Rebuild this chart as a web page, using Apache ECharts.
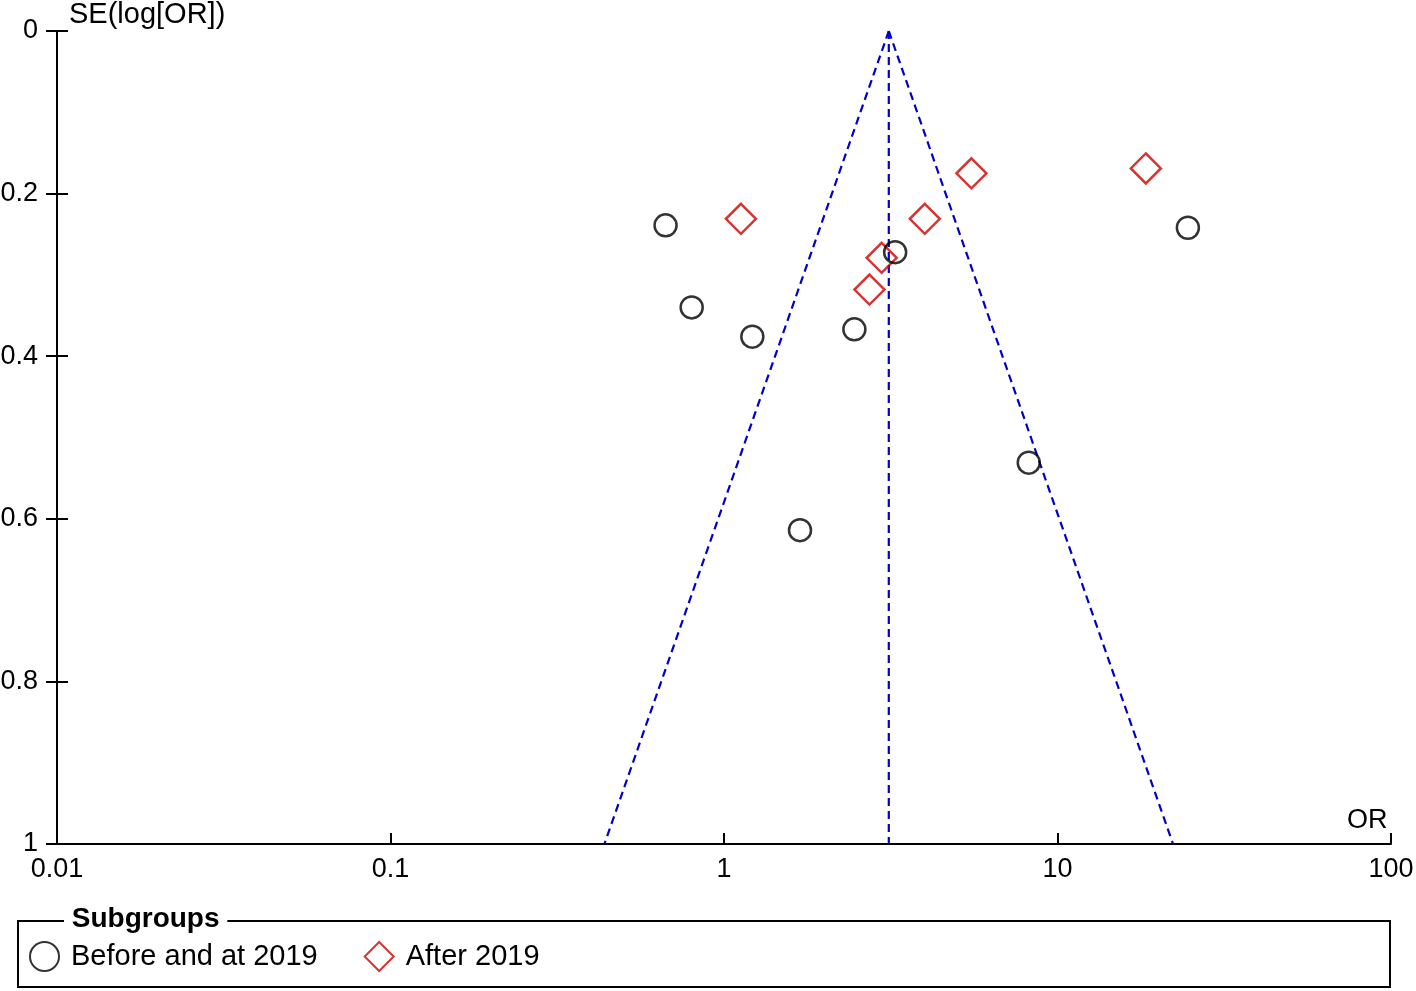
<!DOCTYPE html>
<html>
<head>
<meta charset="utf-8">
<script src="https://cdn.jsdelivr.net/npm/echarts@6/dist/echarts.min.js"></script>
<style>
  html, body { margin: 0; padding: 0; background: #fff; }
  #chart { width: 1416px; height: 991px; }
</style>
</head>
<body>
<div id="chart"></div>
<script>
// study points: odds ratio and its SE(log OR)
const beforeOR = [0.668, 0.80, 1.216, 2.46, 3.26, 24.6, 8.2, 1.69]
const beforeSE = [0.239, 0.340, 0.376, 0.367, 0.272, 0.242, 0.531, 0.614]
const afterOR = [1.124, 4.0, 2.97, 2.73, 5.52, 18.4]
const afterSE = [0.231, 0.231, 0.279, 0.318, 0.175, 0.169]

// funnel: pooled OR and the 95% limits at SE = 1
const pooledOR = 3.12
const funnelLowOR = 0.438
const funnelHighOR = 22.2
const seMax = 1

const xTickLabels = ['0.01', '0.1', '1', '10', '100']
const yTickLabels = ['0', '0.2', '0.4', '0.6', '0.8', '1']

const FONT = '"Liberation Sans", Arial, sans-serif'
const BLUE = '#0000c8'
const RED = '#cc0000'

const chart = echarts.init(document.getElementById('chart'))

const dashed = { color: BLUE, width: 2.2, type: [8, 5] }

const option = {
  animation: false,
  backgroundColor: '#fff',
  grid: { left: 57, right: 25, top: 31, bottom: 147, containLabel: false, outerBoundsMode: 'none' },
  title: {
    text: 'SE(log[OR])',
    left: 69, top: 0,
    textStyle: { fontFamily: FONT, fontSize: 29, fontWeight: 'normal', color: '#000' },
    padding: 0
  },
  xAxis: {
    type: 'log',
    logBase: 10,
    min: 0.01,
    max: 100,
    position: 'bottom',
    name: 'OR',
    nameLocation: 'end',
    nameGap: -44,
    nameTextStyle: { fontFamily: FONT, fontSize: 27, color: '#000', verticalAlign: 'bottom', padding: [0, 0, 10, 0] },
    axisLine: { show: true, onZero: false, lineStyle: { color: '#000', width: 2 } },
    axisTick: { show: true, inside: true, length: 11, lineStyle: { color: '#000', width: 2 } },
    minorTick: { show: false },
    splitLine: { show: false },
    axisLabel: {
      margin: 12,
      fontFamily: FONT, fontSize: 27, color: '#000',
      formatter: (v, i) => xTickLabels[i]
    }
  },
  yAxis: [
    {
      type: 'value',
      inverse: true,
      min: 0,
      max: seMax,
      interval: 0.2,
      axisLine: { show: true, onZero: false, lineStyle: { color: '#000', width: 2 } },
      axisTick: { show: true, length: 11, lineStyle: { color: '#000', width: 2 } },
      splitLine: { show: false },
      axisLabel: {
        margin: 19,
        fontFamily: FONT, fontSize: 27, color: '#000',
        formatter: (v, i) => yTickLabels[i]
      }
    },
    {
      type: 'value',
      inverse: true,
      position: 'left',
      offset: 0,
      min: 0,
      max: seMax,
      interval: 0.2,
      axisLine: { show: false },
      axisTick: { show: true, inside: true, length: 11, lineStyle: { color: '#000', width: 2 } },
      splitLine: { show: false },
      axisLabel: { show: false }
    }
  ],
  legend: {
    left: 29,
    top: 941,
    padding: 0,
    itemWidth: 29,
    itemHeight: 29,
    itemGap: 46,
    textStyle: { fontFamily: FONT, fontSize: 29, color: '#000', padding: [2, 0, 0, 7] },
    data: ['Before and at 2019', 'After 2019']
  },
  graphic: [
    {
      type: 'rect',
      shape: { x: 18, y: 921, width: 1372, height: 66 },
      style: { fill: 'none', stroke: '#000', lineWidth: 2 },
      silent: true
    },
    {
      type: 'text',
      x: 64, y: 905,
      style: {
        text: ' Subgroups ',
        fontFamily: FONT, fontSize: 28, fontWeight: 'bold', fill: '#000',
        backgroundColor: '#fff'
      },
      z: 10
    }
  ],
  series: [
    {
      name: 'funnel-low',
      type: 'line',
      data: [[pooledOR, 0], [funnelLowOR, seMax]],
      symbol: 'none',
      lineStyle: dashed,
      silent: true,
      z: 1
    },
    {
      name: 'funnel-high',
      type: 'line',
      data: [[pooledOR, 0], [funnelHighOR, seMax]],
      symbol: 'none',
      lineStyle: dashed,
      silent: true,
      z: 1
    },
    {
      name: 'pooled',
      type: 'line',
      data: [[pooledOR, 0], [pooledOR, seMax]],
      symbol: 'none',
      lineStyle: dashed,
      silent: true,
      z: 1
    },
    {
      name: 'Before and at 2019',
      type: 'scatter',
      data: beforeOR.map((v, i) => [v, beforeSE[i]]),
      symbol: 'circle',
      symbolSize: 22,
      itemStyle: { color: 'rgba(255,255,255,0)', borderColor: '#000', borderWidth: 2.5 },
      z: 3
    },
    {
      name: 'After 2019',
      type: 'scatter',
      data: afterOR.map((v, i) => [v, afterSE[i]]),
      symbol: 'diamond',
      symbolSize: 30,
      itemStyle: { color: 'rgba(255,255,255,0)', borderColor: RED, borderWidth: 2.5 },
      z: 2
    }
  ]
}

chart.setOption(option)
</script>
</body>
</html>
